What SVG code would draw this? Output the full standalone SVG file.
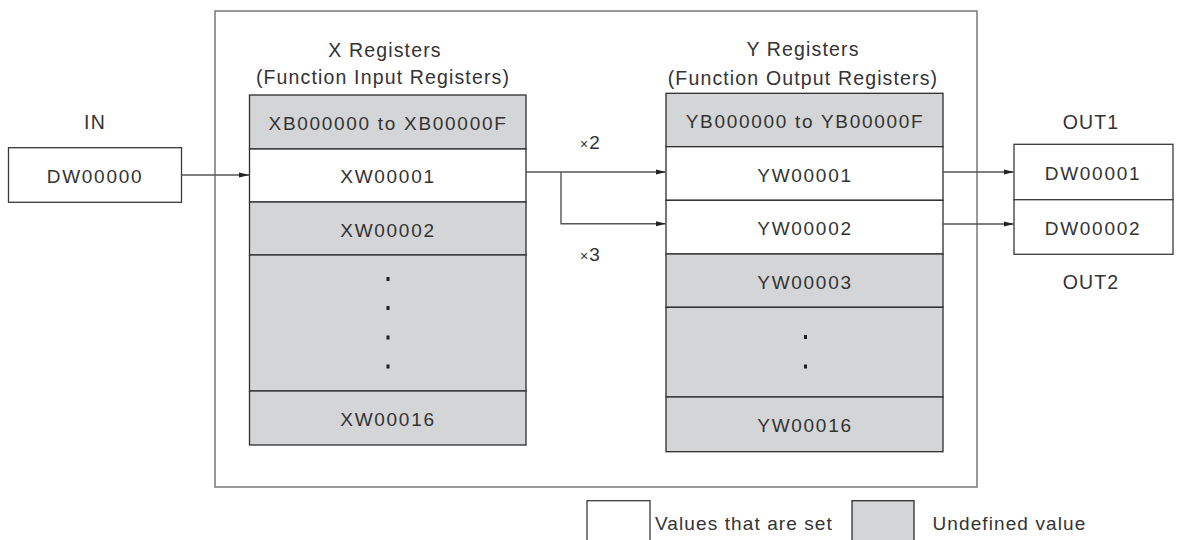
<svg xmlns="http://www.w3.org/2000/svg" width="1177" height="540" viewBox="0 0 1177 540">
  <style>
    text { font-family: "Liberation Sans", Arial, sans-serif; font-size: 19px; fill: #333333; }
    .code { letter-spacing: 1.7px; text-anchor: middle; }
    .title { font-size: 19.5px; letter-spacing: 1.15px; text-anchor: middle; }
    .lbl { letter-spacing: 1.1px; }
    .cell-set { fill: #ffffff; stroke: #2e2e2e; stroke-width: 1.3; }
    .cell-undef { fill: #d4d5d7; stroke: #2e2e2e; stroke-width: 1.3; }
    .frame { fill: none; stroke: #6e6e6e; stroke-width: 1.4; }
    .box { fill: #ffffff; stroke: #3a3a3a; stroke-width: 1.3; }
    .wire { fill: none; stroke: #555555; stroke-width: 1.4; }
    .dot { fill: #1e1e1e; }
  </style>
  <defs>
    <marker id="arrow" markerUnits="userSpaceOnUse" markerWidth="11" markerHeight="6" refX="10" refY="2.6" orient="auto">
      <path d="M0,0 L10.5,2.6 L0,5.2 z" fill="#222222"/>
    </marker>
  </defs>

  <rect width="1177" height="540" fill="#ffffff"/>

  <!-- function block frame -->
  <rect id="function-frame" class="frame" x="215" y="11" width="762" height="476"/>

  <!-- input word -->
  <g id="node-in">
    <text class="title" x="95" y="128.5">IN</text>
    <rect class="box" x="8.5" y="147.7" width="173" height="54.6"/>
    <text class="code" x="95" y="183">DW00000</text>
  </g>

  <!-- X registers -->
  <g id="node-x-registers">
    <text class="title" x="385" y="56.5">X Registers</text>
    <text class="title" x="383" y="84">(Function Input Registers)</text>
    <rect class="cell-undef" x="249.5" y="95" width="276.5" height="54"/>
    <rect class="cell-set" x="249.5" y="149" width="276.5" height="53"/>
    <rect class="cell-undef" x="249.5" y="202" width="276.5" height="53"/>
    <rect class="cell-undef" x="249.5" y="255" width="276.5" height="136"/>
    <rect class="cell-undef" x="249.5" y="391" width="276.5" height="54"/>
    <text class="code" x="388" y="129.5">XB000000 to XB00000F</text>
    <text class="code" x="388" y="183">XW00001</text>
    <text class="code" x="388" y="236.5">XW00002</text>
    <rect class="dot" x="386.5" y="277" width="3" height="4"/>
    <rect class="dot" x="386.5" y="306" width="3" height="4"/>
    <rect class="dot" x="386.5" y="335.5" width="3" height="4"/>
    <rect class="dot" x="386.5" y="364.5" width="3" height="4"/>
    <text class="code" x="388" y="425.5">XW00016</text>
  </g>

  <!-- Y registers -->
  <g id="node-y-registers">
    <text class="title" x="803" y="55.5">Y Registers</text>
    <text class="title" x="803" y="84.5">(Function Output Registers)</text>
    <rect class="cell-undef" x="666" y="93.3" width="277" height="53.4"/>
    <rect class="cell-set" x="666" y="146.7" width="277" height="53.6"/>
    <rect class="cell-set" x="666" y="200.3" width="277" height="53.7"/>
    <rect class="cell-undef" x="666" y="254" width="277" height="53.3"/>
    <rect class="cell-undef" x="666" y="307.3" width="277" height="89.7"/>
    <rect class="cell-undef" x="666" y="397" width="277" height="54.7"/>
    <text class="code" x="805" y="128">YB000000 to YB00000F</text>
    <text class="code" x="805" y="181.5">YW00001</text>
    <text class="code" x="805" y="235">YW00002</text>
    <text class="code" x="805" y="288.5">YW00003</text>
    <rect class="dot" x="804" y="335" width="3" height="4"/>
    <rect class="dot" x="804" y="364.5" width="3" height="4"/>
    <text class="code" x="805" y="431.5">YW00016</text>
  </g>

  <!-- output words -->
  <g id="node-out">
    <text class="title" x="1091" y="128.5">OUT1</text>
    <rect class="box" x="1014" y="144.3" width="159" height="55.4"/>
    <rect class="box" x="1014" y="199.7" width="159" height="54.6"/>
    <text class="code" x="1093" y="180">DW00001</text>
    <text class="code" x="1093" y="234.5">DW00002</text>
    <text class="title" x="1091" y="289">OUT2</text>
  </g>

  <!-- data flow -->
  <g id="connectors">
    <line class="wire" x1="181.5" y1="175" x2="249" y2="175" marker-end="url(#arrow)"/>
    <path class="wire" d="M526,172 H665.5" marker-end="url(#arrow)"/>
    <path class="wire" d="M561,172 V223.7 H665.5" marker-end="url(#arrow)"/>
    <line class="wire" x1="943" y1="172" x2="1013.5" y2="172" marker-end="url(#arrow)"/>
    <line class="wire" x1="943" y1="224" x2="1013.5" y2="224" marker-end="url(#arrow)"/>
    <text class="lbl" x="580" y="149.3"><tspan font-size="14">×</tspan>2</text>
    <text class="lbl" x="580" y="260.5"><tspan font-size="14">×</tspan>3</text>
  </g>

  <!-- key -->
  <g id="legend">
    <rect class="box" x="587" y="500.7" width="63" height="50"/>
    <text class="lbl" x="655" y="530">Values that are set</text>
    <rect class="cell-undef" x="852" y="500.7" width="62" height="50"/>
    <text class="lbl" x="932.5" y="530">Undefined value</text>
  </g>
</svg>
